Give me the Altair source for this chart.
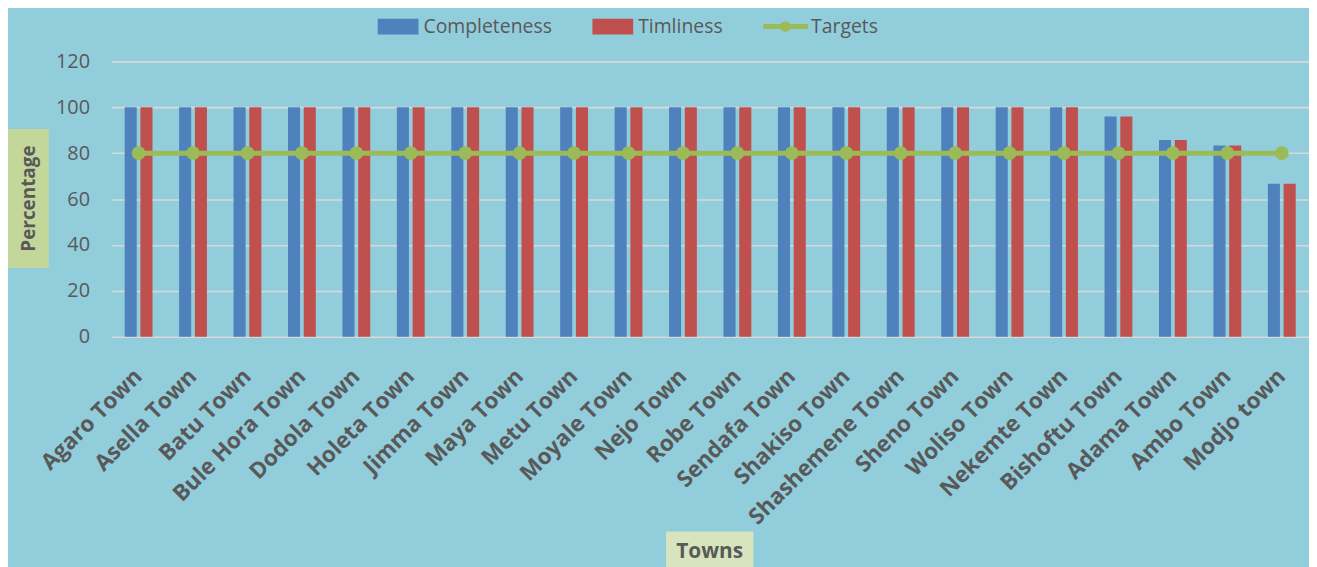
import altair as alt
import pandas as pd

towns = ["Agaro Town", "Asella Town", "Batu Town", "Bule Hora Town", "Dodola Town",
         "Holeta Town", "Jimma Town", "Maya Town", "Metu Town", "Moyale Town",
         "Nejo Town", "Robe Town", "Sendafa Town", "Shakiso Town", "Shashemene  Town",
         "Sheno Town", "Woliso Town", "Nekemte Town", "Bishoftu Town", "Adama Town",
         "Ambo Town", "Modjo town"]
completeness = [100, 100, 100, 100, 100, 100, 100, 100, 100, 100, 100, 100, 100, 100,
                100, 100, 100, 100, 96, 85.7, 83.3, 66.7]
timliness = [100, 100, 100, 100, 100, 100, 100, 100, 100, 100, 100, 100, 100, 100,
             100, 100, 100, 100, 96, 85.7, 83.3, 66.7]
targets = [80] * 22
series_names = ["Completeness", "Timliness", "Targets"]
series_colors = ["#4F81BD", "#C0504D", "#9BBB59"]

rows = []
for name, vals in zip(series_names, [completeness, timliness, targets]):
    for t, v in zip(towns, vals):
        rows.append({"town": t, "series": name, "value": v})
df = pd.DataFrame(rows)

FONT = "Open Sans"
GREY = "#595959"

color_scale = alt.Scale(domain=series_names, range=series_colors)

x_enc = alt.X("town:N", sort=towns, title=None,
              scale=alt.Scale(paddingInner=0.489, paddingOuter=0.2445),
              axis=alt.Axis(labelAngle=-45, labelAlign="right", labelBaseline="middle",
                            labelPadding=36, labelFontSize=22.5, labelFont=FONT,
                            labelFontWeight="bold", labelColor=GREY, domain=False,
                            ticks=False, grid=False, labelLimit=400))
y_enc = alt.Y("value:Q", title=None, scale=alt.Scale(domain=[0, 120], nice=False),
              axis=alt.Axis(values=[0, 20, 40, 60, 80, 100, 120], labelFontSize=20,
                            labelFont=FONT, labelColor=GREY, labelPadding=22,
                            domain=False, ticks=False, grid=True,
                            gridColor="#D9D9D9", gridWidth=1.6))

base = alt.Chart(df)

bars = base.transform_filter(alt.datum.series != "Targets").mark_bar().encode(
    x=x_enc, y=y_enc,
    xOffset=alt.XOffset("series:N", scale=alt.Scale(domain=["Completeness", "Timliness"],
                                                    paddingInner=0.233, paddingOuter=0)),
    color=alt.Color("series:N", scale=color_scale, legend=None),
)

line = base.transform_filter(alt.datum.series == "Targets").mark_line(strokeWidth=5).encode(
    x=x_enc, y=y_enc, color=alt.Color("series:N", scale=color_scale, legend=None),
)
pts = base.transform_filter(alt.datum.series == "Targets").mark_point(
    filled=True, size=190, opacity=1, shape="circle").encode(
    x=x_enc, y=y_enc, color=alt.Color("series:N", scale=color_scale, legend=None),
)

one = pd.DataFrame({"a": [0]})

# Legend (decoration)
leg = []
for x0, col, label in [(268, series_colors[0], series_names[0]),
                       (484, series_colors[1], series_names[1])]:
    leg.append(alt.Chart(one).mark_rect(color=col).encode(
        x=alt.value(x0), x2=alt.value(x0 + 41), y=alt.value(-43), y2=alt.value(-27)))
    leg.append(alt.Chart(one).mark_text(text=label, fontSize=19.5, font=FONT, color=GREY,
                                        align="left", baseline="middle").encode(
        x=alt.value(x0 + 46), y=alt.value(-35)))
leg.append(alt.Chart(one).mark_rule(color=series_colors[2], strokeWidth=5).encode(
    x=alt.value(656), x2=alt.value(701), y=alt.value(-35)))
leg.append(alt.Chart(one).mark_point(filled=True, size=115, opacity=1, shape="circle",
                                     color=series_colors[2]).encode(
    x=alt.value(678), y=alt.value(-35)))
leg.append(alt.Chart(one).mark_text(text=series_names[2], fontSize=19.5, font=FONT, color=GREY,
                                    align="left", baseline="middle").encode(
    x=alt.value(704), y=alt.value(-35)))

ybox = alt.Chart(one).mark_rect(color="#C4D79B").encode(
    x=alt.value(-104), x2=alt.value(-63), y=alt.value(68), y2=alt.value(208))
ytxt = alt.Chart(one).mark_text(text="Percentage", angle=270, fontSize=19, font=FONT,
                                fontWeight="bold", color=GREY, align="center",
                                baseline="middle").encode(x=alt.value(-83), y=alt.value(138))
xbox = alt.Chart(one).mark_rect(color="#D7E4BD").encode(
    x=alt.value(558), x2=alt.value(646), y=alt.value(473), y2=alt.value(520))
xtxt = alt.Chart(one).mark_text(text="Towns", fontSize=21, font=FONT, fontWeight="bold",
                                color=GREY, align="center", baseline="middle").encode(
    x=alt.value(602), y=alt.value(494))

chart = alt.layer(ybox, ytxt, xbox, xtxt, *leg, bars, line, pts).properties(
    width=1205, height=277,
    autosize=alt.AutoSizeParams(type="none"),
    padding={"left": 104, "top": 52, "right": 0, "bottom": 230},
    background="#92CDDC",
).configure_view(stroke=None)

chart.save("out.html", embed_options={"renderer": "svg", "actions": False})
